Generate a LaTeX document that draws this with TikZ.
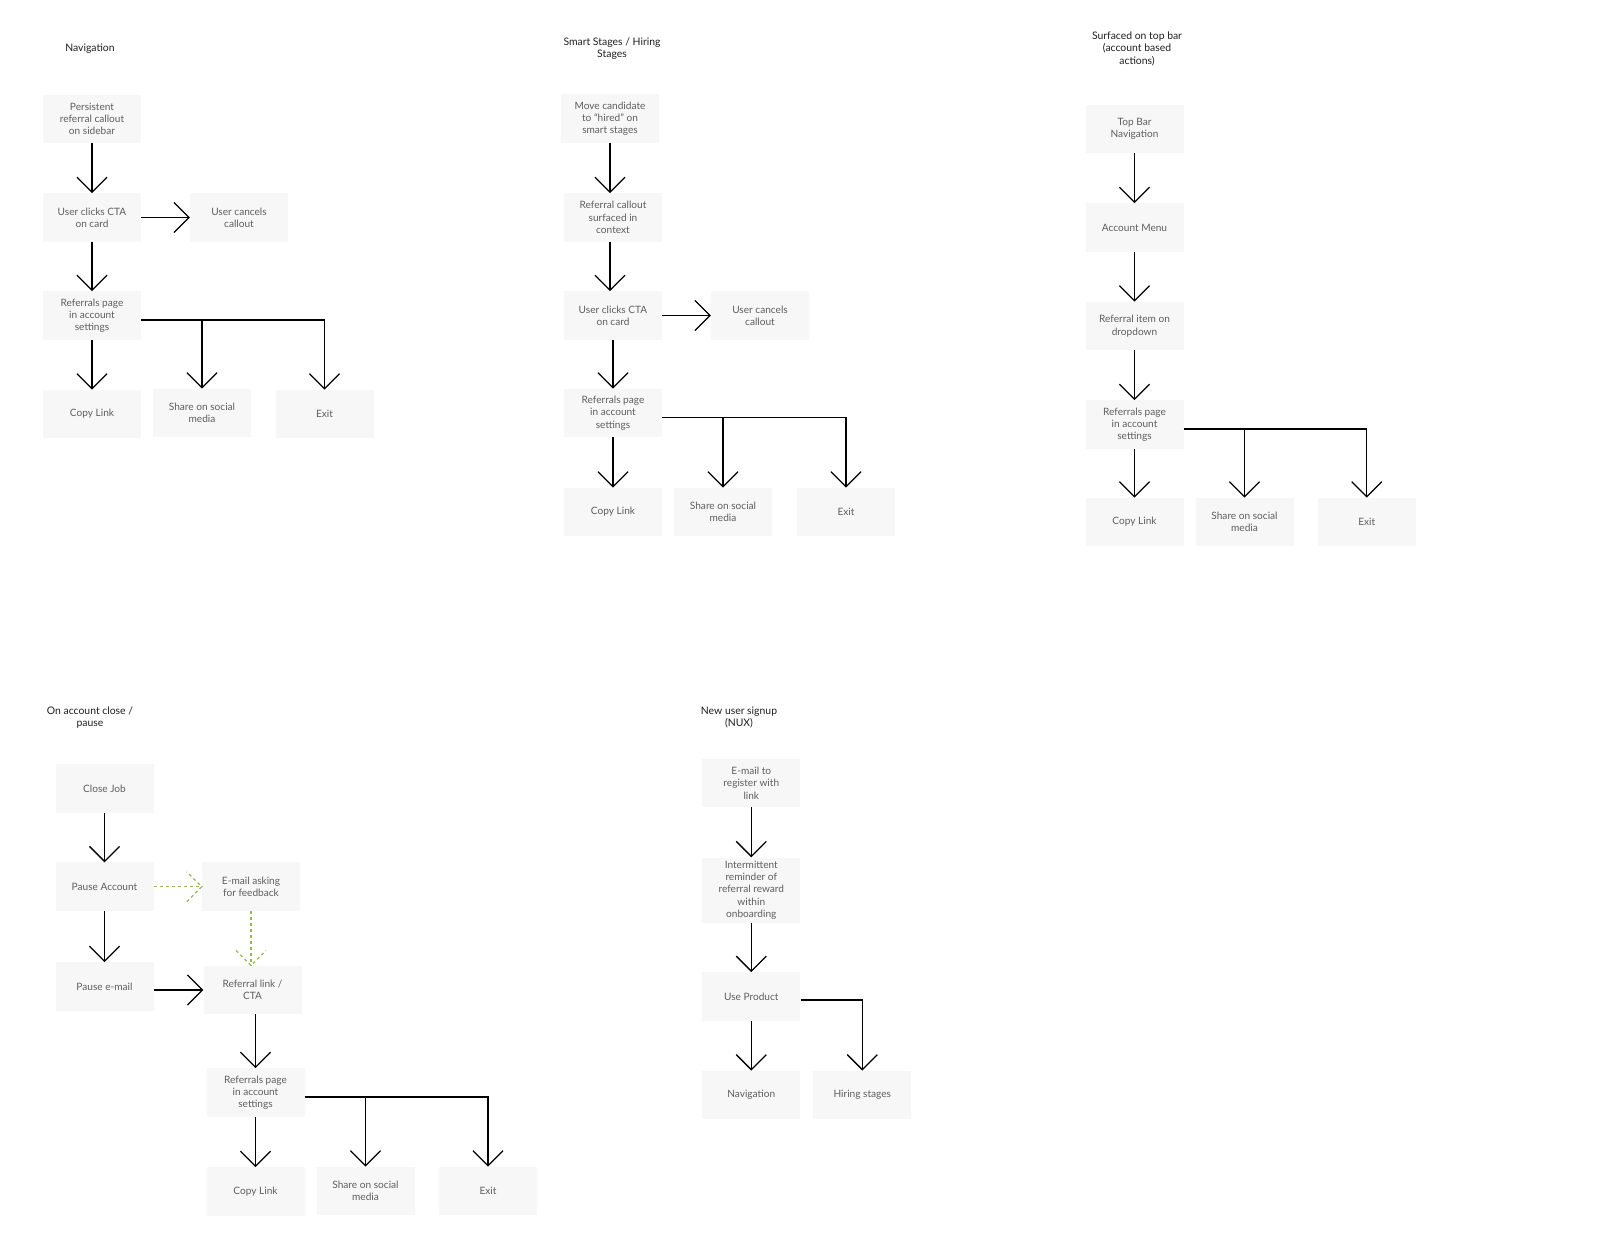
\documentclass[tikz,border=0pt]{standalone}
\usepackage{fontspec}
\setmainfont{Lato}
\usetikzlibrary{arrows.meta}
\definecolor{boxfill}{HTML}{F7F7F7}
\definecolor{boxtext}{HTML}{5E5E5E}
\definecolor{dashgreen}{HTML}{95BA55}
\definecolor{titletext}{HTML}{1E1E1E}
\tikzset{
  stepbox/.style={fill=boxfill, draw=none, minimum width=98pt, minimum height=48.5pt,
    inner sep=0pt, align=center, text=boxtext, font=\fontsize{10.1}{12.3}\selectfont},
  tallbox/.style={stepbox, minimum height=65pt},
  titlelabel/.style={align=center, text=titletext, inner sep=0pt, font=\fontsize{10.4}{12.3}\selectfont},
  arr/.style={draw=black, line width=1.25pt, -{Straight Barb[length=15pt,width=30pt,line width=1.25pt]}},
  gline/.style={draw=dashgreen, line width=1.25pt, dash pattern=on 3pt off 3pt}
}
\begin{document}
\begin{tikzpicture}[x=1pt,y=-1pt]
\useasboundingbox (0,0) rectangle (1600,1251);

% ---------- Column 1: Navigation ----------
\node[titlelabel] (T1) at (90,48.5) {Navigation};
\node[stepbox] (A1) at (92,119) {Persistent\\referral callout\\on sidebar};
\node[stepbox] (A2) at (92,217.5) {User clicks CTA\\on card};
\node[stepbox] (A3) at (239,217.5) {User cancels\\callout};
\node[stepbox] (A4) at (92,315.5) {Referrals page\\in account\\settings};
\node[stepbox] (A5) at (92,414) {Copy Link};
\node[stepbox] (A6) at (202,413) {Share on social\\media};
\node[stepbox] (A7) at (324.5,414) {Exit};
\draw[arr] (A1.south) -- (A2.north);
\draw[arr] (A2.east) -- (A3.west);
\draw[arr] (A2.south) -- (A4.north);
\draw[arr] (A4.south) -- (A5.north);
\coordinate (A4b) at ([yshift=-4.5pt]A4.east);
\draw[arr] (A4b) -| (A7.north);
\draw[arr] (A6.north |- A4b) -- (A6.north);

% ---------- Column 2: Smart Stages ----------
\node[titlelabel] (T2) at (612,48.8) {Smart Stages / Hiring\\Stages};
\node[stepbox] (B1) at (610,118.5) {Move candidate\\to “hired” on\\smart stages};
\node[stepbox] (B2) at (613,217.5) {Referral callout\\surfaced in\\context};
\node[stepbox] (B3) at (613,315.5) {User clicks CTA\\on card};
\node[stepbox] (B4) at (760,315.5) {User cancels\\callout};
\node[stepbox] (B5) at (613,413) {Referrals page\\in account\\settings};
\node[stepbox] (B6) at (613,512) {Copy Link};
\node[stepbox] (B7) at (723,512) {Share on social\\media};
\node[stepbox] (B8) at (846,512) {Exit};
\draw[arr] (B1.south) -- (B1.south |- B2.north);
\draw[arr] ([xshift=-3pt]B2.south) -- ([xshift=-3pt]B3.north);
\draw[arr] (B3.east) -- (B4.west);
\draw[arr] (B3.south) -- (B5.north);
\draw[arr] (B5.south) -- (B6.north);
\coordinate (B5b) at ([yshift=-4.5pt]B5.east);
\draw[arr] (B5b) -| (B8.north);
\draw[arr] (B7.north |- B5b) -- (B7.north);

% ---------- Column 3: Top bar ----------
\node[titlelabel] (T3) at (1137,48.7) {Surfaced on top bar\\(account based\\actions)};
\node[stepbox] (C1) at (1134.5,129) {Top Bar\\Navigation};
\node[stepbox] (C2) at (1134.5,227.5) {Account Menu};
\node[stepbox] (C3) at (1134.5,326) {Referral item on\\dropdown};
\node[stepbox] (C4) at (1134.5,424.5) {Referrals page\\in account\\settings};
\node[stepbox] (C5) at (1134.5,522) {Copy Link};
\node[stepbox] (C6) at (1244.5,522) {Share on social\\media};
\node[stepbox] (C7) at (1366.7,522) {Exit};
\draw[arr] (C1.south) -- (C2.north);
\draw[arr] (C2.south) -- (C3.north);
\draw[arr] (C3.south) -- (C4.north);
\draw[arr] (C4.south) -- (C5.north);
\coordinate (C4b) at ([yshift=-4.5pt]C4.east);
\draw[arr] (C4b) -| (C7.north);
\draw[arr] (C6.north |- C4b) -- (C6.north);

% ---------- Column 4: On account close ----------
\node[titlelabel] (T4) at (90,717.3) {On account close /\\pause};
\node[stepbox] (D1) at (104.5,788.5) {Close Job};
\node[stepbox] (D2) at (104.5,886.7) {Pause Account};
\node[stepbox] (D3) at (251,886.7) {E-mail asking\\for feedback};
\node[stepbox] (D4) at (104.5,986.5) {Pause e-mail};
\node[stepbox] (D5) at (252.5,990) {Referral link /\\CTA};
\node[stepbox] (D6) at (255.5,1092.5) {Referrals page\\in account\\settings};
\node[stepbox] (D7) at (255.5,1191.5) {Copy Link};
\node[stepbox] (D8) at (365.5,1191) {Share on social\\media};
\node[stepbox] (D9) at (488,1191) {Exit};
\draw[arr] (D1.south) -- (D2.north);
% dashed green connector with dashed open head
\coordinate (D3tipw) at (D3.west);
\draw[gline] (D2.east) -- (D3tipw);
\draw[gline] ([xshift=-15pt,yshift=-15pt]D3tipw) -- (D3tipw) -- ([xshift=-15pt,yshift=15pt]D3tipw);
\draw[arr] (D2.south) -- (D4.north);
\coordinate (D5tipn) at (D3.south |- D5.north);
\draw[gline] (D3.south) -- (D5tipn);
\draw[gline] ([xshift=-15pt,yshift=15pt]D5tipn) -- (D5tipn) -- ([xshift=15pt,yshift=15pt]D5tipn);
\draw[arr] (D4.east |- D5.west) -- (D5.west);
\draw[arr] (D6.north |- D5.south) -- (D6.north);
\draw[arr] (D6.south) -- (D7.north);
\coordinate (D6b) at ([yshift=-4.5pt]D6.east);
\draw[arr] (D6b) -| (D9.north);
\draw[arr] (D8.north |- D6b) -- (D8.north);

% ---------- Column 5: NUX ----------
\node[titlelabel] (T5) at (739,717.8) {New user signup\\(NUX)};
\node[stepbox] (E1) at (751.3,783) {E-mail to\\register with\\link};
\node[tallbox] (E2) at (751.3,890) {Intermittent\\reminder of\\referral reward\\within\\onboarding};
\node[stepbox] (E3) at (751.3,996.5) {Use Product};
\node[stepbox] (E4) at (751.3,1095) {Navigation};
\node[stepbox] (E5) at (862.3,1095) {Hiring stages};
\draw[arr] (E1.south) -- (E2.north);
\draw[arr] (E2.south) -- (E3.north);
\draw[arr] (E3.south) -- (E4.north);
\coordinate (E3b) at ([yshift=-3.5pt]E3.east);
\draw[arr] (E3b) -| (E5.north);
\end{tikzpicture}
\end{document}
